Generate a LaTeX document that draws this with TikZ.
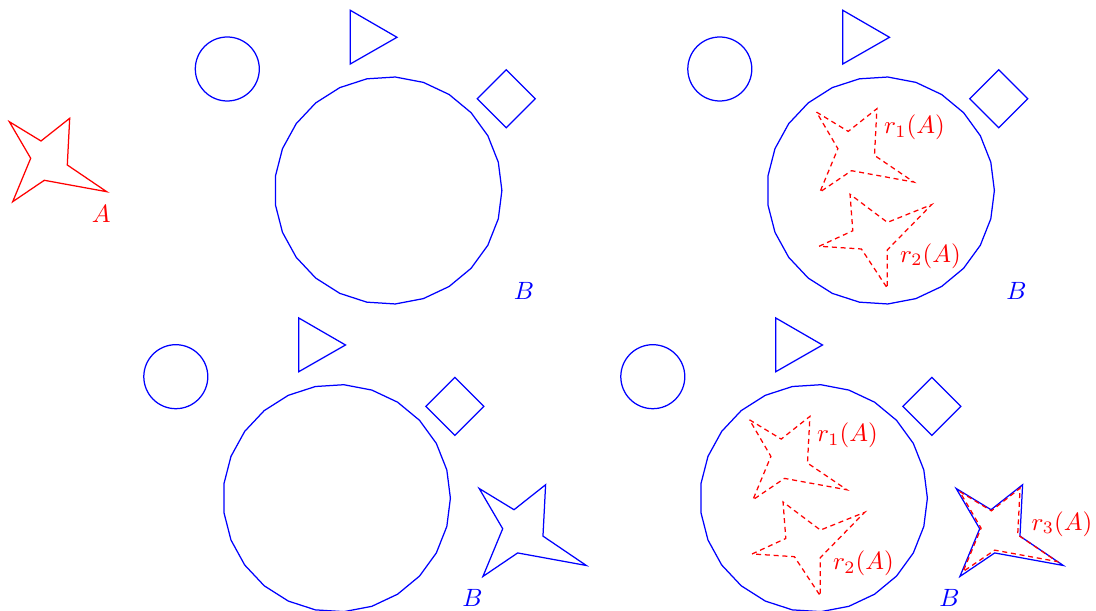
\documentclass[tikz,border=0pt]{standalone}
\usepackage{amsmath,amssymb}
\usepackage{tikz}
\usetikzlibrary{calc}

% the star A, drawn round its centre
\tikzset{
    starA/.pic={
        \draw (-40.3,-36.65) -- (-8.6,-17.35) -- (20.1,-40.05) -- (17.7,6.65) -- (57.1,33.35) -- (-5.3,21.95) -- (-36.9,43.35) -- (-18.9,-0.05) -- cycle;
    }
}

\begin{document}
\begin{tikzpicture}[
    x=0.4pt, y=-0.4pt,
    bline/.style={draw=blue, line width=0.5pt},
    rline/.style={red, line width=0.5pt},
    rimage/.style={red, line width=0.5pt, dash pattern=on 2pt off 1.5pt},
    lblB/.style={text=blue, inner sep=1pt},
    lblr/.style={text=red, inner sep=1pt}
]
\useasboundingbox (0,0) rectangle (1096,611);

% the set A
\pic[rline] at (49.6,158.35) {starA};
\node[lblr] (labA) at (101.3,213.8) {$A$};

% the four copies of B
\foreach \sx/\sy/\nm in {0/0/tl,492.5/0/tr,-51.5/307.7/bl,425.5/307.7/br}{
    \begin{scope}[shift={(\sx,\sy)}]
        \draw[bline] (227.3,69) circle[radius=12.8pt];
        \draw[bline] (350.3,10.3) -- (397,37.3) -- (350.3,64) -- cycle;
        \draw[bline] (506.3,69.7) -- (535.3,98.7) -- (506.3,127.7) -- (477.3,98.7) -- cycle;
        \draw[bline] plot[samples at={0,...,24}] ({388.2+113.7*cos(\x*14.4)},{190.5+113.7*sin(\x*14.4)}) -- cycle;
        \node[lblB] (B\nm) at (524,290.6) {$B$};
    \end{scope}
}

% star piece of B (bottom row)
\begin{scope}[shift={(-51.5,307.7)}]
    \pic[bline, blue, scale=1.1] at (575,221.1) {starA};
\end{scope}
\begin{scope}[shift={(425.5,307.7)}]
    \pic[bline, blue, scale=1.1] at (575,221.1) {starA};
\end{scope}

% images of A (right column)
\begin{scope}[shift={(492.5,0)}]
    \pic[rimage] at (364.3,148.75) {starA};
    \pic[rimage, rotate=56] at (379.5,233.35) {starA};
    \node[lblr] (r1tr) at (422,127.5) {$r_1(A)$};
    \node[lblr] (r2tr) at (438,255.8) {$r_2(A)$};
\end{scope}
\begin{scope}[shift={(425.5,307.7)}]
    \pic[rimage] at (364.3,148.75) {starA};
    \pic[rimage, rotate=56] at (379.5,233.35) {starA};
    \pic[rimage] at (574.5,220.5) {starA};
    \node[lblr] (r1br) at (422,127.5) {$r_1(A)$};
    \node[lblr] (r2br) at (438,255.8) {$r_2(A)$};
    \node[lblr] (r3br) at (636.5,216.3) {$r_3(A)$};
\end{scope}
\end{tikzpicture}
\end{document}
